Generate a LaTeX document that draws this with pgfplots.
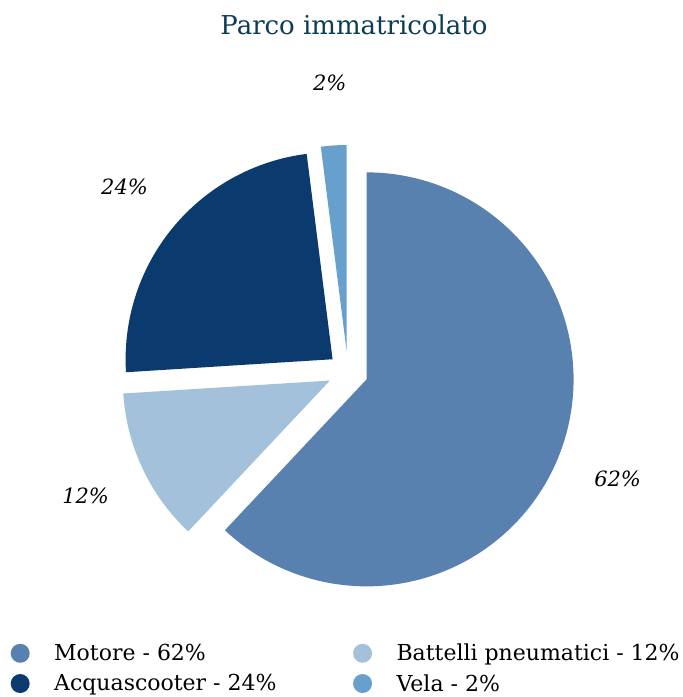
\documentclass[border=0pt]{standalone}
\usepackage{pgfplots}
\pgfplotsset{compat=1.18}
\usepackage{fontspec}
\setmainfont{DejaVu Serif}
\definecolor{cMot}{RGB}{88,129,175}
\definecolor{cBat}{RGB}{163,193,218}
\definecolor{cAcq}{RGB}{10,58,110}
\definecolor{cVel}{RGB}{104,160,205}
\definecolor{ctitle}{RGB}{13,60,85}
% data (percent)
\def\vMot{62}
\def\vBat{12}
\def\vAcq{24}
\def\vVel{2}
% geometry
\def\cx{348}\def\cy{325}\def\R{207}\def\D{20}\def\L{290}
\pgfmathsetmacro\aMs{90}
\pgfmathsetmacro\aMe{\aMs-3.6*\vMot}
\pgfmathsetmacro\aBe{\aMe-3.6*\vBat}
\pgfmathsetmacro\aAe{\aBe-3.6*\vAcq}
\pgfmathsetmacro\aVe{\aAe-3.6*\vVel}
\pgfmathsetmacro\mM{(\aMs+\aMe)/2}
\pgfmathsetmacro\mB{(\aMe+\aBe)/2}
\pgfmathsetmacro\mA{(\aBe+\aAe)/2}
\pgfmathsetmacro\mV{(\aAe+\aVe)/2}
\pgfmathsetmacro\Mx{\cx+\D*cos(\mM)}\pgfmathsetmacro\My{\cy+\D*sin(\mM)}
\pgfmathsetmacro\Bx{\cx+\D*cos(\mB)}\pgfmathsetmacro\By{\cy+\D*sin(\mB)}
\pgfmathsetmacro\Ax{\cx+\D*cos(\mA)}\pgfmathsetmacro\Ay{\cy+\D*sin(\mA)}
\pgfmathsetmacro\Vx{\cx+\D*cos(\mV)}\pgfmathsetmacro\Vy{\cy+\D*sin(\mV)}
\begin{document}
\begin{tikzpicture}
\begin{axis}[name=ax,
  width=683pt, height=697pt, scale only axis,
  xmin=0, xmax=683, ymin=0, ymax=697,
  hide axis, clip=false,
  legend columns=2,
  legend cell align=left,
  legend image code/.code={\fill[#1] (9.5pt,0pt) circle (9.5pt);\path[draw=none,fill=none] (0pt,0pt) rectangle (41.5pt,0.1pt);},
  legend style={draw=none, fill=none, at={(axis cs:10.5,55)}, anchor=north west,
    font=\fontsize{22}{26}\selectfont, inner sep=0pt, row sep=8pt,
    /tikz/every even column/.append style={column sep=74.5pt},
    nodes={inner sep=2pt}},
]
\addplot[fill=cMot, draw=none, domain=\aMe:\aMs, samples=120, variable=\t]
  ({\Mx+\R*cos(\t)}, {\My+\R*sin(\t)}) -- (axis cs:\Mx,\My) -- cycle;
\addlegendentry{Motore - 62\%}
\addplot[fill=cBat, draw=none, domain=\aBe:\aMe, samples=40, variable=\t]
  ({\Bx+\R*cos(\t)}, {\By+\R*sin(\t)}) -- (axis cs:\Bx,\By) -- cycle;
\addlegendentry{Battelli pneumatici - 12\%}
\addplot[fill=cAcq, draw=none, domain=\aAe:\aBe, samples=60, variable=\t]
  ({\Ax+\R*cos(\t)}, {\Ay+\R*sin(\t)}) -- (axis cs:\Ax,\Ay) -- cycle;
\addlegendentry{Acquascooter - 24\%}
\addplot[fill=cVel, draw=none, domain=\aVe:\aAe, samples=10, variable=\t]
  ({\Vx+\R*cos(\t)}, {\Vy+\R*sin(\t)}) -- (axis cs:\Vx,\Vy) -- cycle;
\addlegendentry{Vela - 2\%}
% percentage labels
\node[font=\fontsize{21}{24}\selectfont\itshape] at (axis cs:{\cx+\L*cos(\mM)},{\cy+\L*sin(\mM)}) {62\%};
\node[font=\fontsize{21}{24}\selectfont\itshape] at (axis cs:{\cx+\L*cos(\mB)},{\cy+\L*sin(\mB)}) {12\%};
\node[font=\fontsize{21}{24}\selectfont\itshape] at (axis cs:{\cx+\L*cos(\mA)},{\cy+\L*sin(\mA)}) {24\%};
\node[font=\fontsize{21}{24}\selectfont\itshape] at (axis cs:{\cx+\L*cos(\mV)},{\cy+\L*sin(\mV)}) {2\%};
\node[font=\fontsize{26}{30}\selectfont, text=ctitle] at (axis cs:354,672) {Parco immatricolato};
\end{axis}
\pgfresetboundingbox
\path (ax.south west) rectangle (ax.north east);
\end{tikzpicture}
\end{document}
